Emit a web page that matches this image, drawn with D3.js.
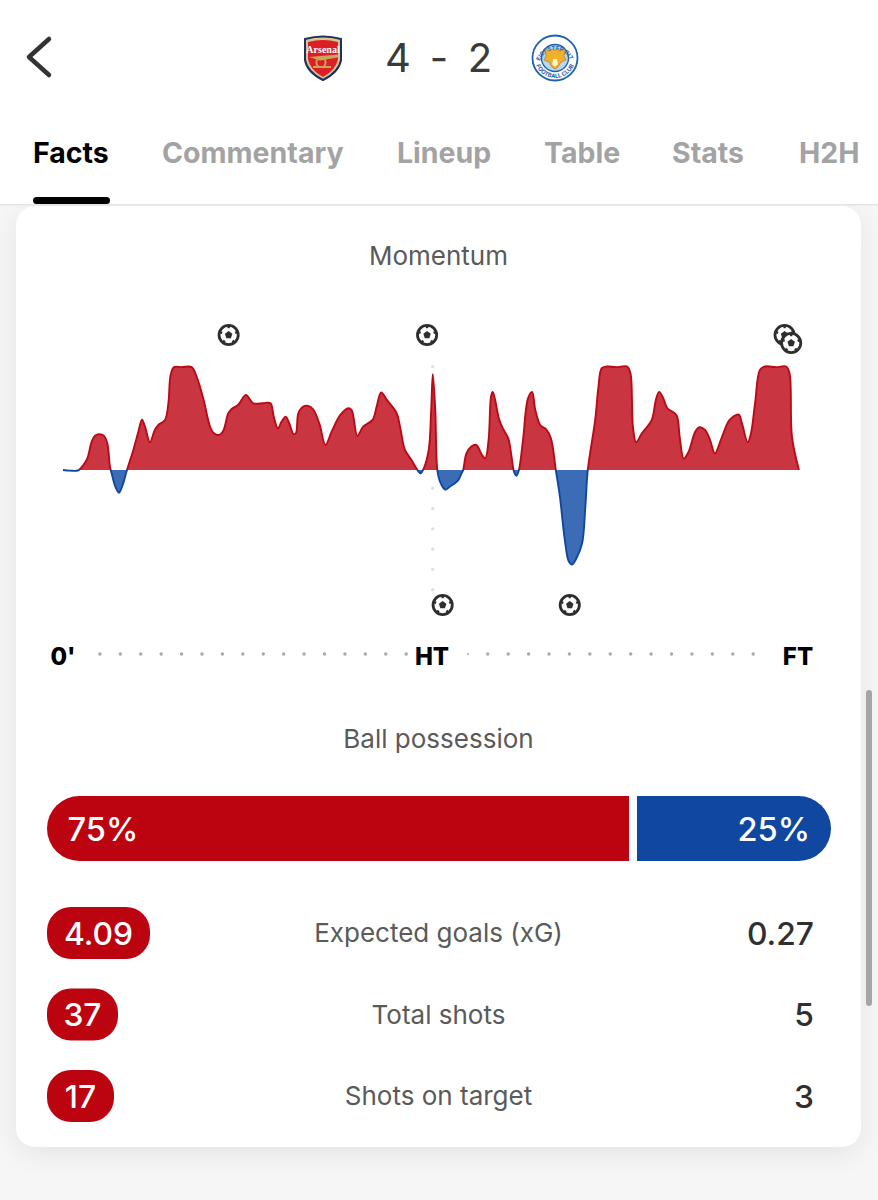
<!DOCTYPE HTML>
<html lang="en">
<head>
    <meta charset="UTF-8">
    <title>Momentum</title>
    <script src="https://d3js.org/d3.v7.min.js"></script>
    <style>
        html, body { margin: 0; padding: 0; background: #f6f6f6; }
        svg { display: block; }
        text { font-family: Inter, "Noto Sans", sans-serif; }
    </style>
</head>
<body>
    <div id="chart"></div>
    <script>
        const tabs = ["Facts", "Commentary", "Lineup", "Table", "Stats", "H2H"];
        const tabX = [33, 162, 397, 544, 672, 799];

        // momentum curve, minute of the match and share of the swing (+ home, - away)
        const minutes = [0, 0.85, 1.87, 2.48, 2.97, 3.5, 3.9, 4.43, 5, 5.4, 5.73, 5.93, 6.38, 6.83, 7.27, 7.8, 8.58, 9.19, 9.63, 10, 10.6, 11.2, 11.63, 12.44, 12.85, 13.13, 13.54, 14.47, 15.69, 16.3, 17.1, 17.93, 18.41, 19.07, 19.55, 20.16, 20.57, 21.38, 22.3, 23.2, 24.4, 25.3, 25.7, 26.2, 26.66, 27.15, 27.6, 28.1, 28.4, 28.7, 29.3, 29.9, 30.5, 31.26, 32, 32.76, 33.8, 34.8, 35.2, 35.9, 36.6, 37.75, 38.25, 38.8, 39.5, 40.7, 41.1, 41.7, 42.5, 43.1, 43.6, 44, 44.6, 44.9, 45.1, 45.4, 45.65, 45.98, 46.6, 47.2, 48.2, 48.6, 48.8, 49.2, 49.8, 50.4, 51.1, 51.5, 51.9, 52.2, 52.4, 52.7, 53.2, 53.7, 54.3, 54.7, 55, 55.3, 55.6, 56.1, 56.7, 57.2, 57.6, 58.2, 58.9, 59.5, 60.1, 60.6, 61.2, 61.7, 62.1, 62.6, 63.3, 63.7, 64, 64.9, 65.3, 65.7, 66.3, 67.5, 68.8, 69.2, 69.5, 69.9, 70.6, 71.8, 72.3, 72.7, 73.2, 73.7, 74.8, 75.2, 75.7, 76.3, 77.1, 77.6, 78.3, 78.9, 79.5, 80.3, 81.3, 82.4, 82.8, 83.5, 83.9, 84.4, 85, 85.6, 87, 88.2, 88.6, 88.9, 89.75];
        const momentum = [0, -0.6, -0.3, 4.8, 11.3, 27.4, 33, 34.5, 33, 25.8, 3.2, -3.2, -16, -22, -14.5, 0, 19.4, 37, 48.7, 42, 26.8, 38.7, 43.5, 48.4, 64.5, 92, 99.4, 99.4, 99.4, 90, 69.4, 42, 35.5, 34, 38, 54.8, 59, 63, 72.6, 64.5, 64.5, 64.5, 51.6, 40.3, 46.8, 51.6, 45, 34.8, 35.5, 54.8, 61.3, 62, 58.7, 45, 24.2, 37, 53, 59.7, 58, 33, 42, 48.4, 61.3, 75, 67.7, 54.8, 42, 19.4, 9.7, 1.6, -3.2, 1.6, 19.4, 58, 92.6, 58, 0, -11.3, -19, -16, -9.7, -3.2, 0, 16, 22.6, 24.2, 14.5, 11.3, 29, 71, 75.5, 67.7, 48.4, 39.4, 30.6, 13, -1.6, -5.5, 0, 29, 69, 75.5, 58, 43.5, 39.4, 30.6, 0, -25.8, -67.7, -88.7, -91.3, -85.5, -71, -35.5, 0, 48.4, 80.6, 98.4, 100, 99.4, 100, 93.5, 42, 26.8, 35.5, 48.4, 67.7, 75.5, 69.4, 59.7, 53.2, 32.3, 11, 17.7, 37, 41.3, 38.7, 29, 16, 30.6, 48.4, 53.5, 45, 26.8, 35.5, 64.5, 96.8, 100, 99.4, 100, 93.5, 32, 0];

        const homeGoals = [20.2, 44.4, 88, 88.8];
        const awayGoals = [46.3, 61.8];

        const possession = [75, 25];
        const statLabels = ["Expected goals (xG)", "Total shots", "Shots on target"];
        const homeStats = ["4.09", "37", "17"];
        const awayStats = ["0.27", "5", "3"];

        const RED = "#bb0410", BLUE = "#0f47a1", INK = "#5a5a5a", DARK = "#2f2f2f";

        const svg = d3.select("#chart").append("svg")
            .attr("width", 878).attr("height", 1200);

        const defs = svg.append("defs");
        const blur = defs.append("filter").attr("id", "shadow")
            .attr("x", "-10%").attr("y", "-10%").attr("width", "120%").attr("height", "120%");
        blur.append("feGaussianBlur").attr("stdDeviation", 14);

        svg.append("rect").attr("width", 878).attr("height", 1200).attr("fill", "#f6f6f6");

        // card
        svg.append("rect").attr("x", 16).attr("y", 212).attr("width", 845).attr("height", 942)
            .attr("rx", 20).attr("fill", "#000").attr("opacity", 0.07).attr("filter", "url(#shadow)");
        svg.append("rect").attr("x", 16).attr("y", 206).attr("width", 845).attr("height", 941)
            .attr("rx", 19).attr("fill", "#fff");

        // header
        svg.append("rect").attr("width", 878).attr("height", 204).attr("fill", "#fff");
        svg.append("rect").attr("y", 204).attr("width", 878).attr("height", 1.5).attr("fill", "#e4e4e4");

        svg.append("path").attr("d", "M49,39 L29,57 L49,75")
            .attr("fill", "none").attr("stroke", "#333").attr("stroke-width", 4.5)
            .attr("stroke-linecap", "round").attr("stroke-linejoin", "round");

        svg.selectAll("text.score").data(["4", "-", "2"]).join("text")
            .attr("class", "score")
            .attr("x", (d, i) => [398, 439, 480][i]).attr("y", 72)
            .attr("text-anchor", "middle").attr("font-size", 40).attr("fill", "#3a3a3a")
            .text(d => d);

        drawArsenal(svg.append("g").attr("transform", "translate(323,58)"));
        drawLeicester(svg.append("g").attr("transform", "translate(555,58)"));

        svg.selectAll("text.tab").data(tabs).join("text")
            .attr("class", "tab")
            .attr("x", (d, i) => tabX[i]).attr("y", 163)
            .attr("font-size", 28.5).attr("font-weight", 700)
            .attr("fill", (d, i) => i === 0 ? "#000" : "#a3a3a3")
            .text(d => d);
        svg.append("rect").attr("x", 33).attr("y", 197).attr("width", 77).attr("height", 7)
            .attr("rx", 3.5).attr("fill", "#000");

        // scrollbar
        svg.append("rect").attr("x", 866).attr("y", 690).attr("width", 6).attr("height", 316)
            .attr("rx", 3).attr("fill", "#a6a6a6");

        // momentum chart
        svg.append("text").attr("x", 438.5).attr("y", 265).attr("text-anchor", "middle")
            .attr("font-size", 26).attr("fill", INK).text("Momentum");

        const x = d3.scaleLinear().domain([0, 90]).range([63, 801]);
        const y = d3.scaleLinear().domain([-100, 100]).range([573.5, 366.5]);
        const points = minutes.map((m, i) => ({m: m, v: momentum[i]}));

        // half time guide
        svg.selectAll("circle.guide").data(d3.range(-100, 126, 19.6)).join("circle")
            .attr("class", "guide")
            .attr("cx", x(45.08)).attr("cy", d => y(-d))
            .attr("r", 1.6).attr("fill", "#dddddd");

        const curve = d3.curveCatmullRom.alpha(0.5);
        const area = d3.area().x(d => x(d.m)).y0(y(0)).y1(d => y(d.v)).curve(curve);
        const line = d3.line().x(d => x(d.m)).y(d => y(d.v)).curve(curve);

        defs.append("clipPath").attr("id", "above").append("rect")
            .attr("x", 0).attr("y", 0).attr("width", 878).attr("height", y(0));
        defs.append("clipPath").attr("id", "below").append("rect")
            .attr("x", 0).attr("y", y(0)).attr("width", 878).attr("height", 300);

        const sides = [
            {clip: "above", fill: "#c93540", stroke: "#bb0a16"},
            {clip: "below", fill: "#3d6cb7", stroke: "#0f47a1"}
        ];
        sides.forEach(s => {
            const g = svg.append("g").attr("clip-path", `url(#${s.clip})`);
            g.append("path").datum(points).attr("d", area).attr("fill", s.fill);
            g.append("path").datum(points).attr("d", line)
                .attr("fill", "none").attr("stroke", s.stroke).attr("stroke-width", 1.9);
        });

        homeGoals.forEach((m, i) => drawBall(x(m), i === 3 ? 343 : 335));
        awayGoals.forEach(m => drawBall(x(m), 605));

        // time axis
        const axisTicks = d3.range(4.5, 43, 2.49).concat(d3.range(51.8, 85, 2.49));
        svg.selectAll("circle.tick").data(axisTicks).join("circle")
            .attr("class", "tick")
            .attr("cx", d => x(d)).attr("cy", 654)
            .attr("r", 1.7).attr("fill", "#a9a9a9");
        svg.append("circle").attr("cx", x(49.4)).attr("cy", 654).attr("r", 1).attr("fill", "#a9a9a9");
        svg.selectAll("text.period").data(["0'", "HT", "FT"]).join("text")
            .attr("class", "period")
            .attr("x", (d, i) => [63, 432, 798][i]).attr("y", 665)
            .attr("text-anchor", "middle").attr("font-size", 24).attr("font-weight", 800)
            .attr("fill", "#000").text(d => d);

        // ball possession
        svg.append("text").attr("x", 438.5).attr("y", 748).attr("text-anchor", "middle")
            .attr("font-size", 26).attr("fill", INK).text("Ball possession");

        const px = d3.scaleLinear().domain([0, 100]).range([47, 823]);
        const barTop = 796, barH = 65, r = 32.5;
        const leftEnd = px(possession[0]);
        const rightStart = leftEnd + 8;
        const rightEnd = rightStart + px(possession[1]) - px(0);
        svg.append("path").attr("fill", RED)
            .attr("d", `M${leftEnd},${barTop}H${47 + r}A${r},${r} 0 0 0 ${47 + r},${barTop + barH}H${leftEnd}Z`);
        svg.append("path").attr("fill", BLUE)
            .attr("d", `M${rightStart},${barTop}H${rightEnd - r}A${r},${r} 0 0 1 ${rightEnd - r},${barTop + barH}H${rightStart}Z`);
        svg.append("text").attr("x", 67.5).attr("y", 841).attr("font-size", 32.6)
            .attr("font-weight", 500).attr("fill", "#fff").text(possession[0] + "%");
        svg.append("text").attr("x", 810).attr("y", 841).attr("text-anchor", "end").attr("font-size", 32.6)
            .attr("font-weight", 500).attr("fill", "#fff").text(possession[1] + "%");

        // stat rows
        const rowY = d3.scalePoint().domain(statLabels).range([933, 1096]);
        const pillW = [103, 71, 67];
        statLabels.forEach((label, i) => {
            const cy = rowY(label);
            svg.append("rect").attr("x", 47).attr("y", cy - 26).attr("width", pillW[i]).attr("height", 52)
                .attr("rx", 24).attr("fill", RED);
            svg.append("text").attr("x", 47 + pillW[i] / 2).attr("y", cy + 11.5)
                .attr("text-anchor", "middle").attr("font-size", 31.8).attr("font-weight", 500)
                .attr("fill", "#fff").text(homeStats[i]);
            svg.append("text").attr("x", 438.5).attr("y", cy + 9)
                .attr("text-anchor", "middle").attr("font-size", 26).attr("fill", INK).text(label);
            svg.append("text").attr("x", 814).attr("y", cy + 11.5)
                .attr("text-anchor", "end").attr("font-size", 31.8).attr("font-weight", 500)
                .attr("fill", DARK).text(awayStats[i]);
        });

        function drawBall(cx, cy) {
            const g = svg.append("g").attr("transform", `translate(${cx},${cy})`);
            g.append("circle").attr("r", 9.6).attr("fill", "#fff")
                .attr("stroke", "#2e2e2e").attr("stroke-width", 2.8);
            const pent = d3.range(5).map(i => {
                const a = -Math.PI / 2 + i * 2 * Math.PI / 5;
                return [3.9 * Math.cos(a), 3.9 * Math.sin(a)];
            });
            g.append("polygon").attr("points", pent.join(" ")).attr("fill", "#2e2e2e");
            d3.range(5).forEach(i => {
                const a = -Math.PI / 2 + i * 2 * Math.PI / 5;
                g.append("line")
                    .attr("x1", 6.8 * Math.cos(a)).attr("y1", 6.8 * Math.sin(a))
                    .attr("x2", 9 * Math.cos(a)).attr("y2", 9 * Math.sin(a))
                    .attr("stroke", "#2e2e2e").attr("stroke-width", 2.4);
            });
        }

        function drawArsenal(g) {
            const shield = "M-18,-19 Q0,-24 18,-19 L18,2 Q16,14 0,22 Q-16,14 -18,2 Z";
            g.append("path").attr("d", shield).attr("fill", "#d9c48a").attr("stroke", "#1d2f66").attr("stroke-width", 2);
            g.append("path").attr("d", "M-15,-16 Q0,-20 15,-16 L15,1 Q13,12 0,19 Q-13,12 -15,1 Z").attr("fill", "#dc1f26");
            g.append("text").attr("y", -5.5).attr("text-anchor", "middle").attr("font-size", 10)
                .attr("font-weight", 700).attr("fill", "#fff")
                .style("font-family", "'Liberation Serif', serif").text("Arsenal");
            g.append("path").attr("d", "M-14,-1 L15,-3.5 L15,-0.5 L-3,2.5 Z").attr("fill", "#c9a65a");
            g.append("circle").attr("cx", -2).attr("cy", 4.5).attr("r", 4.6).attr("fill", "none").attr("stroke", "#c9a65a").attr("stroke-width", 1.9);
            g.append("rect").attr("x", -10).attr("y", 8).attr("width", 18).attr("height", 2).attr("fill", "#c9a65a");
        }

        function drawLeicester(g) {
            g.append("circle").attr("r", 22.5).attr("fill", "#fff").attr("stroke", "#1d62ae").attr("stroke-width", 1.8);
            g.append("circle").attr("r", 13.5).attr("fill", "#bcd6ee").attr("stroke", "#1d62ae").attr("stroke-width", 1.4);
            defs.append("path").attr("id", "topArc").attr("d", "M-15.5,4 A16,16 0 0 1 15.5,4");
            defs.append("path").attr("id", "botArc").attr("d", "M-20,4 A20.5,20.5 0 0 0 20,4");
            g.append("text").attr("font-size", 5.8).attr("font-weight", 700).attr("fill", "#1d62ae")
                .append("textPath").attr("href", "#topArc").attr("startOffset", "50%").attr("text-anchor", "middle")
                .text("LEICESTER CITY");
            g.append("text").attr("font-size", 5.8).attr("font-weight", 700).attr("fill", "#1d62ae")
                .append("textPath").attr("href", "#botArc").attr("startOffset", "50%").attr("text-anchor", "middle")
                .text("FOOTBALL CLUB");
            // fox head
            g.append("path").attr("d", "M-10,-9 L-5,-7 L-2,-9 L0,-7 L2,-9 L5,-7 L10,-9 L9,-2 L11,2 L6,4 L3,9 L0,11 L-3,9 L-6,4 L-11,2 L-9,-2 Z")
                .attr("fill", "#f0b02a").attr("stroke", "#a8700f").attr("stroke-width", 0.6);
            g.append("path").attr("d", "M-2,1 L2,1 L3,6 L0,9 L-3,6 Z").attr("fill", "#fff2c4");
        }
    </script>
</body>
</html>
